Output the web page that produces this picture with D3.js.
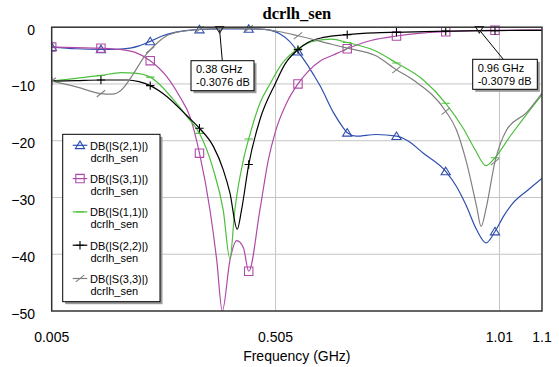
<!DOCTYPE html>
<html>
<head>
<meta charset="utf-8">
<script src="https://cdn.jsdelivr.net/npm/d3@7"></script>
<style>
  html, body { margin: 0; padding: 0; background: #fff; }
  svg { display: block; }
  text { font-family: "Liberation Sans", Arial, sans-serif; fill: #000; }
</style>
</head>
<body>
<svg id="chart" width="559" height="367"></svg>
<script>
// S-parameter sweep of dcrlh_sen, magnitudes in dB versus frequency in GHz
const s21Freq = [0.005, 0.06, 0.115, 0.15, 0.18, 0.20, 0.225, 0.25, 0.28, 0.31, 0.335, 0.38, 0.445, 0.48, 0.50, 0.515, 0.535, 0.555, 0.575, 0.59, 0.605, 0.634, 0.655, 0.665, 0.685, 0.73, 0.775, 0.80, 0.835, 0.885, 0.91, 0.93, 0.954, 0.975, 0.995, 1.015, 1.035, 1.07, 1.1];
const s21DB   = [-3.5, -3.8, -3.9, -3.9, -3.7, -3.3, -2.5, -1.6, -0.9, -0.55, -0.4, -0.3076, -0.3, -0.4, -0.7, -1.2, -2.4, -4.3, -6.5, -8.4, -10.4, -15.0, -17.6, -18.6, -19.2, -18.9, -19.2, -20.0, -22.2, -25.4, -28.2, -31.3, -35.7, -38.0, -36.0, -33.2, -31.0, -28.6, -26.6];

const s31Freq = [0.005, 0.06, 0.115, 0.165, 0.19, 0.225, 0.262, 0.2915, 0.314, 0.335, 0.3585, 0.3735, 0.386, 0.4032, 0.418, 0.433, 0.445, 0.47, 0.4887, 0.505, 0.53, 0.555, 0.58, 0.604, 0.634, 0.665, 0.72, 0.775, 0.83, 0.885, 0.94, 0.96, 0.995, 1.1];
const s31DB   = [-3.5, -3.6, -3.7, -4.0, -4.4, -5.9, -8.7, -12.3, -15.8, -22.2, -32.2, -41.0, -50.0, -41.0, -37.6, -38.8, -43.0, -32.2, -23.4, -18.3, -13.3, -10.0, -7.6, -6.0, -4.9, -3.8, -2.3, -1.55, -1.05, -0.8, -0.62, -0.58, -0.55, -0.45];

const s11Freq = [0.005, 0.06, 0.115, 0.16, 0.19, 0.225, 0.245, 0.275, 0.31, 0.335, 0.366, 0.388, 0.403, 0.414, 0.433, 0.445, 0.47, 0.4925, 0.5186, 0.555, 0.593, 0.63, 0.665, 0.726, 0.775, 0.835, 0.885, 0.924, 0.95, 0.975, 0.995, 1.028, 1.066, 1.1];
const s11DB   = [-9.5, -9.0, -8.5, -8.0, -8.1, -8.8, -10.0, -12.6, -16.0, -18.7, -25.1, -32.2, -40.8, -32.2, -23.4, -19.7, -13.4, -10.0, -6.5, -3.8, -2.4, -2.1, -2.7, -4.1, -6.3, -9.3, -13.4, -17.8, -21.5, -24.4, -23.0, -19.3, -15.3, -11.9];

const s22Freq = [0.005, 0.06, 0.115, 0.175, 0.2, 0.225, 0.262, 0.307, 0.335, 0.366, 0.388, 0.403, 0.4194, 0.429, 0.445, 0.47, 0.504, 0.526, 0.555, 0.578, 0.612, 0.665, 0.726, 0.775, 0.885, 0.995, 1.1];
const s22DB   = [-9.5, -9.4, -9.3, -9.3, -9.6, -10.3, -12.2, -15.6, -17.8, -21.0, -25.1, -29.2, -35.6, -32.2, -24.2, -16.3, -10.0, -6.5, -3.95, -2.65, -1.8, -1.3, -1.0, -0.9, -0.7, -0.6, -0.55];

const s33Freq = [0.005, 0.06, 0.115, 0.14, 0.16, 0.1876, 0.21, 0.225, 0.243, 0.262, 0.29, 0.335, 0.40, 0.445, 0.48, 0.515, 0.555, 0.63, 0.665, 0.728, 0.775, 0.8125, 0.885, 0.909, 0.932, 0.954, 0.964, 0.976, 0.995, 1.021, 1.066, 1.1];
const s33DB   = [-9.5, -10.5, -11.7, -11.8, -11.1, -8.2, -5.4, -4.0, -2.6, -1.5, -0.8, -0.4, -0.2, -0.25, -0.4, -0.8, -1.5, -3.0, -3.7, -5.0, -7.5, -9.3, -14.8, -18.1, -24.0, -31.6, -35.1, -31.6, -23.7, -18.1, -15.0, -11.6];

// symbols are repeated along each trace at these frequencies
const symbolFreqs = [0.005, 0.115, 0.225, 0.335, 0.445, 0.555, 0.665, 0.775, 0.885, 0.995];

const traceNames = ["DB(|S(2,1)|)", "DB(|S(3,1)|)", "DB(|S(1,1)|)", "DB(|S(2,2)|)", "DB(|S(3,3)|)"];
const docName = "dcrlh_sen";

// frequency markers
const markerFreqs = [0.38, 0.96];
const markerDB = [-0.3076, -0.3079];

// axis ticks
const xTickValues = [0.005, 0.505, 1.005, 1.1];
const xTickLabels = ["0.005", "0.505", "1.01", "1.1"];
const yTickValues = [0, -10, -20, -30, -40, -50];

const svg = d3.select("#chart");
const plot = { left: 51.7, right: 542, top: 27.2, bottom: 311 };

const x = d3.scaleLinear().domain([0.005, 1.1]).range([plot.left, plot.right]);
const y = d3.scaleLinear().domain([-50, 0]).range([plot.bottom, plot.top]);

const traces = [
  { freq: s21Freq, db: s21DB, color: "#2f4fb0", sym: "triangle" },
  { freq: s31Freq, db: s31DB, color: "#b04aa8", sym: "square" },
  { freq: s11Freq, db: s11DB, color: "#4cc03c", sym: "dash" },
  { freq: s22Freq, db: s22DB, color: "#000000", sym: "plus" },
  { freq: s33Freq, db: s33DB, color: "#808080", sym: "slash" }
];

// grid
const grid = svg.append("g");
grid.selectAll("line.h").data(yTickValues.filter(v => v < 0 && v > -50)).join("line")
  .attr("x1", plot.left).attr("x2", plot.right)
  .attr("y1", d => y(d)).attr("y2", d => y(d))
  .attr("stroke", "#c4c4c4").attr("stroke-width", 1);
grid.selectAll("line.v").data(xTickValues.slice(1, 3)).join("line")
  .attr("y1", plot.top).attr("y2", plot.bottom)
  .attr("x1", d => x(d)).attr("x2", d => x(d))
  .attr("stroke", "#c4c4c4").attr("stroke-width", 1);

svg.append("clipPath").attr("id", "clip").append("rect")
  .attr("x", plot.left).attr("y", plot.top - 6)
  .attr("width", plot.right - plot.left).attr("height", plot.bottom - plot.top + 6);

const line = d3.line().x(d => x(d[0])).y(d => y(d[1])).curve(d3.curveMonotoneX);

function symbolPath(kind, cx, cy) {
  const s = 4.2;
  switch (kind) {
    case "triangle": return `M${cx},${cy - s}L${cx + s * 1.1},${cy + s * 0.8}L${cx - s * 1.1},${cy + s * 0.8}Z`;
    case "square": return `M${cx - s},${cy - s}h${2 * s}v${2 * s}h${-2 * s}Z`;
    case "dash": return `M${cx - s},${cy}h${2 * s}`;
    case "plus": return `M${cx - s},${cy}h${2 * s}M${cx},${cy - s}v${2 * s}`;
    case "slash": return `M${cx - s},${cy + s * 0.8}L${cx + s},${cy - s * 0.8}`;
  }
}

const curves = svg.append("g").attr("clip-path", "url(#clip)");
traces.forEach(t => {
  const pts = t.freq.map((f, i) => [f, t.db[i]]);
  curves.append("path").datum(pts)
    .attr("d", line).attr("fill", "none")
    .attr("stroke", t.color).attr("stroke-width", 1.2);
  const symPts = pts.filter(p => symbolFreqs.some(f => Math.abs(f - p[0]) < 1e-9));
  curves.selectAll(null).data(symPts).join("path")
    .attr("d", p => symbolPath(t.sym, x(p[0]), y(p[1])))
    .attr("fill", "none").attr("stroke", t.color).attr("stroke-width", 1.1);
});

// frame
svg.append("rect")
  .attr("x", plot.left).attr("y", plot.top)
  .attr("width", plot.right - plot.left).attr("height", plot.bottom - plot.top)
  .attr("fill", "none").attr("stroke", "#333").attr("stroke-width", 1.5);

// axes labels
svg.selectAll("text.ytick").data(yTickValues).join("text")
  .attr("x", 35).attr("y", d => y(d) + 7.5)
  .attr("text-anchor", "end").attr("font-size", 14)
  .text(d => d3.format("d")(d));

svg.selectAll("text.xtick").data(xTickValues).join("text")
  .attr("x", d => x(d)).attr("y", 342)
  .attr("text-anchor", "middle").attr("font-size", 14)
  .text((d, i) => xTickLabels[i]);

svg.append("text")
  .attr("x", (plot.left + plot.right) / 2).attr("y", 361)
  .attr("text-anchor", "middle").attr("font-size", 14)
  .text("Frequency (GHz)");

svg.append("text")
  .attr("x", (plot.left + plot.right) / 2).attr("y", 18.5)
  .attr("text-anchor", "middle")
  .style("font-family", "'Liberation Serif', 'Times New Roman', serif")
  .attr("font-weight", "bold").attr("font-size", 16.5)
  .text(docName);

// marker callouts
const callouts = [
  { bx: 191, by: 60.7, bw: 63, bh: 30, ax: 222.3 },
  { bx: 472.7, by: 59.3, bw: 64.6, bh: 30, ax: 503.3 }
];
markerFreqs.forEach((f, i) => {
  const c = callouts[i];
  const px = x(f), py = y(markerDB[i]);
  svg.append("line").attr("x1", px).attr("y1", py + 1).attr("x2", c.ax).attr("y2", c.by)
    .attr("stroke", "#000").attr("stroke-width", 1);
  svg.append("path")
    .attr("d", `M${px - 4},${py - 2.5}L${px + 4},${py - 2.5}L${px},${py + 4}Z`)
    .attr("fill", "none").attr("stroke", "#222").attr("stroke-width", 1.1);
  svg.append("rect").attr("x", c.bx + 2.5).attr("y", c.by + 2.5)
    .attr("width", c.bw).attr("height", c.bh).attr("fill", "#9a9a9a");
  svg.append("rect").attr("x", c.bx).attr("y", c.by)
    .attr("width", c.bw).attr("height", c.bh)
    .attr("fill", "#fff").attr("stroke", "#000").attr("stroke-width", 1);
  svg.append("text").attr("x", c.bx + 5).attr("y", c.by + 12.6).attr("font-size", 11)
    .text(`${f} GHz`);
  svg.append("text").attr("x", c.bx + 5).attr("y", c.by + 25.3).attr("font-size", 11)
    .text(`${markerDB[i]} dB`);
});

// legend
const lg = { x: 62.7, y: 134.3, w: 97.3, h: 167.4, step: 33.3 };
svg.append("rect").attr("x", lg.x + 2.5).attr("y", lg.y + 2.5)
  .attr("width", lg.w).attr("height", lg.h).attr("fill", "#9a9a9a");
svg.append("rect").attr("x", lg.x).attr("y", lg.y)
  .attr("width", lg.w).attr("height", lg.h)
  .attr("fill", "#fff").attr("stroke", "#000").attr("stroke-width", 1);
traces.forEach((t, i) => {
  const ly = lg.y + 11 + i * lg.step;
  svg.append("line").attr("x1", 72.7).attr("x2", 87.3).attr("y1", ly).attr("y2", ly)
    .attr("stroke", t.color).attr("stroke-width", 1.2);
  svg.append("path").attr("d", symbolPath(t.sym, 80, ly))
    .attr("fill", "none").attr("stroke", t.color).attr("stroke-width", 1.1);
  svg.append("text").attr("x", 90).attr("y", ly + 4.3).attr("font-size", 11).text(traceNames[i]);
  svg.append("text").attr("x", 90.5).attr("y", ly + 16.5).attr("font-size", 11).text(docName);
});
</script>
</body>
</html>
